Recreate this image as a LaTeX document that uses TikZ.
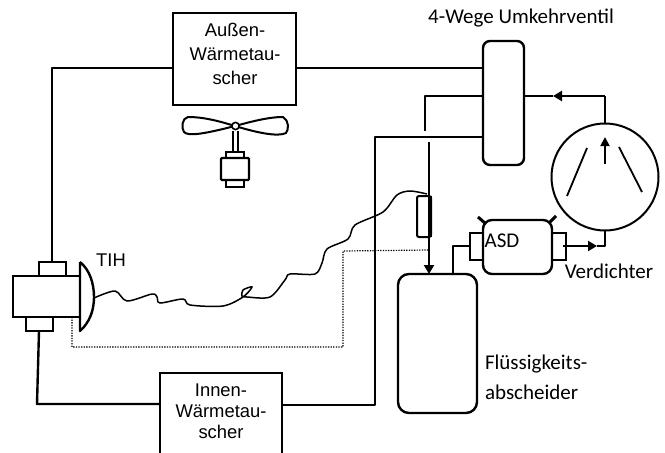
\documentclass[tikz,border=0pt]{standalone}
\usepackage{fontspec}
\setmainfont{Liberation Sans}
\newfontfamily\calibrifont{Carlito}
\usetikzlibrary{arrows.meta,calc}
\tikzset{
  x=1pt,y=-1pt,
  every node/.style={inner sep=0pt,outer sep=0pt},
  part/.style={draw,line width=2.4pt,anchor=north west,rectangle},
  roundpart/.style={part,rounded corners=7pt},
  pipe/.style={line width=2.4pt,line join=round},
  thin pipe/.style={line width=1.8pt,line join=round},
  flow/.style={-{Triangle[length=9pt,width=10pt]}},
  dot line/.style={line width=1.2pt,dash pattern=on 1.3pt off 1.3pt},
  arial/.style={font=\fontsize{18.4}{24}\selectfont,align=center},
  calibri/.style={font=\calibrifont\fontsize{21}{24}\selectfont},
}
\begin{document}
\begin{tikzpicture}
\useasboundingbox (0,0) rectangle (665,453);
% boxes
\node[part,minimum width=123pt,minimum height=92pt] (aussen) at (173,13) {};
\node[arial] (aussentext) at (235,54) {Außen-\\Wärmetau-\\scher};
\node[roundpart,minimum width=41pt,minimum height=124pt] (valve) at (483,41) {};
\node[draw,circle,line width=2pt,minimum size=107pt] (comp) at (605,177) {};
\node[roundpart,rounded corners=11pt,minimum width=79pt,minimum height=139pt] (accu) at (398,274) {};
\node[roundpart,rounded corners=9pt,minimum width=69pt,minimum height=54pt] (asd) at (483,220) {};
\node[part,minimum width=13pt,minimum height=27pt] (asdl) at (470,233) {};
\node[part,minimum width=14pt,minimum height=27pt] (asdr) at (552,233) {};
\node[part,line width=2pt,rounded corners=2pt,minimum width=14pt,minimum height=41pt] (filter) at (417,196) {};
\node[part,minimum width=67pt,minimum height=41pt] (exp) at (13,276) {};
\node[part,minimum width=27pt,minimum height=14pt] (expt) at (39,262) {};
\node[part,minimum width=27pt,minimum height=14pt] (expb) at (26,317) {};
% inner box, open at the lower edge
\coordinate (il) at (160,454);
\coordinate (ir) at (282,454);
\coordinate (it) at (221,373);
\draw[line width=2.6pt] (il) -- (il |- it) -- (ir |- it) -- (ir);
\node[arial,font=\fontsize{18.4}{21}\selectfont] (innentext) at (221,411) {Innen-\\Wärmetau-\\scher};
% bend points
\coordinate (c1) at (52,68);
\coordinate (c2) at (39,331);
\coordinate (c3) at (37,404);
\coordinate (c4) at (160,404);
\coordinate (c5) at (282,405);
\coordinate (c6) at (375,405);
\coordinate (c7) at (375,137);
\coordinate (c8) at (425,96);
\coordinate (c9) at (425,131);
\coordinate (c10) at (429,142);
\coordinate (c11) at (429,274);
\coordinate (c12) at (453,246);
\coordinate (c13) at (453,274);
\coordinate (c14) at (605,96);
\coordinate (c15) at (553,96);
\coordinate (c16) at (563,246);
\coordinate (c17) at (597,246);
\coordinate (c18) at (605,246);
\coordinate (d1) at (72,317);
\coordinate (d2) at (72,347);
\coordinate (d3) at (343,347);
\coordinate (d4) at (343,251);
\coordinate (d5) at (429,250);
% pipes
\draw[pipe] (aussen.west |- c1) -- (c1) -- (c1 |- expt.north);
\draw[pipe] (aussen.east |- c1) -- (valve.west |- c1);
\draw[pipe] (c2) -- (c3) -- (c4);
\draw[pipe] (c5) -- (c6) -- (c7) -- (valve.west |- c7);
\draw[pipe] (valve.west |- c8) -- (c8) -- (c9);
\draw[pipe,flow] (c10) -- (c11);
\draw[pipe] (c13) -- (c12) -- (asdl.west |- c12);
\draw[pipe,flow] (c14) -- (c15);
\draw[pipe] (comp.north) -- (c14);
\draw[pipe] (c15) -- (valve.east |- c15);
\draw[pipe,flow] (c16) -- (c17);
\draw[pipe] (c17) -- (c18) -- (comp.south);
% compressor interior
\draw[thin pipe] (587,148) -- (567,196);
\draw[thin pipe] (619,147) -- (642,192);
\draw[thin pipe,-{Triangle[length=9pt,width=9pt]}] (605,164) -- (605,137);
% ASD lugs
\draw[line width=3pt] (478,217) -- (486,224);
\draw[line width=3pt] (556,216) -- (549,223);
% thicker right side of filter
\draw[line width=2.8pt] (431,196) -- (431,237);
% thermostatic bulb
\draw[pipe,fill=white] (80,262) -- (80,331) .. controls (90,322) and (94,310) .. (94,297) .. controls (94,284) and (90,270) .. (80,262);
% capillary
\draw[line width=1.5pt,smooth,tension=0.5] plot coordinates {(94,298) (115,291) (127,301) (152,294) (157,297) (160,303) (183,299) (190,305) (223,306) (243,297) (252,287) (243,290) (242,296) (247,297) (270,297) (285,280) (290,274) (315,274) (322,263) (327,249) (348,239) (355,225) (383,212) (397,195) (410,191) (427,194)};
% sensing line
\draw[dot line] (d1) -- (d2) -- (d3) -- (d4) -- (d5);
% fan
\draw[line width=1.6pt] (233,131) -- (233,152) (238,131) -- (238,152);
\draw[line width=2pt,fill=white] (235,126) .. controls (222,122) and (205,117) .. (188,117) .. controls (182,118) and (181,128) .. (184,132) .. controls (188,136) and (200,135) .. (235,126)
 .. controls (250,122) and (268,117) .. (283,117) .. controls (289,120) and (289,130) .. (286,133) .. controls (278,137) and (258,133) .. (235,126);
\fill[white] (235.5,126) circle (4pt);
\draw[line width=1.6pt] (235.5,126) circle (3.6pt);
\draw[line width=1.8pt] (226,158) rectangle (244,152);
\draw[line width=1.8pt] (226,180) rectangle (244,187);
\draw[line width=2.2pt,rounded corners=1pt] (221,158) rectangle (249,180);
% labels
\node[calibri] (l1) at (521,18) {4-Wege Umkehrventil};
\node[arial] (l2) at (111,260) {TIH};
\node[calibri] (l3) at (502,241) {ASD};
\node[calibri] (l4) at (609,271) {Verdichter};
\node[calibri,anchor=west] (l5) at (485,364) {Flüssigkeits-};
\node[calibri,anchor=west] (l6) at (485,392) {abscheider};
\end{tikzpicture}
\end{document}
